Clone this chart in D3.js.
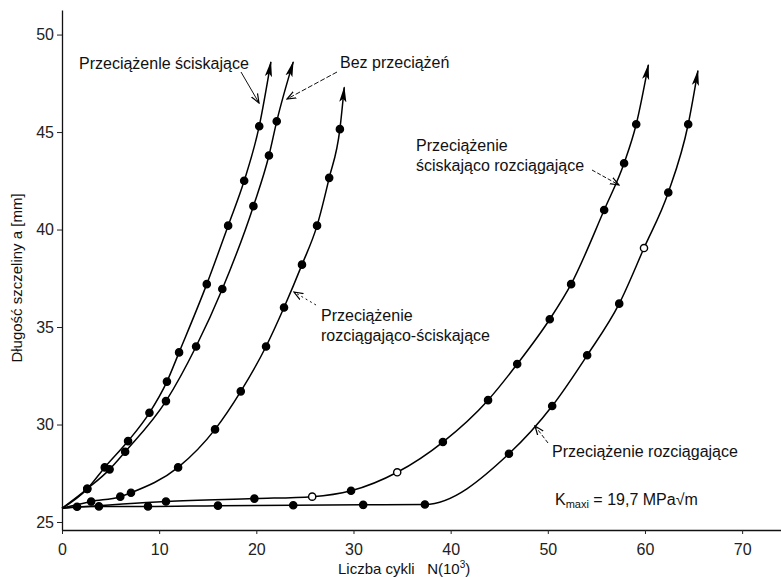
<!DOCTYPE html>
<html><head><meta charset="utf-8">
<script src="https://cdn.jsdelivr.net/npm/d3@7/dist/d3.min.js"></script>
<style>
html,body{margin:0;padding:0;background:#fff;}
svg{display:block;font-family:"Liberation Sans",Arial,Helvetica,sans-serif;}
</style></head>
<body>
<svg id="chart" width="781" height="577"></svg>
<script>
// ---- data (N in 10^3 cycles, a in mm) ----
const xTicks = [0, 10, 20, 30, 40, 50, 60, 70];
const yTicks = [25, 30, 35, 40, 45, 50];
const startPoint = [0, 25.7];

const sciskajace = [[2.6,26.7],[4.4,27.8],[6.8,29.15],[9.0,30.6],[10.8,32.2],[12.05,33.7],[14.9,37.2],[17.1,40.2],[18.75,42.5],[20.3,45.3]];
const sciskajaceEnd = [21.5, 48.6];

const bezPrzeciazen = [[2.6,26.7],[4.9,27.7],[6.5,28.6],[10.7,31.2],[13.8,34.0],[16.5,36.95],[19.7,41.2],[21.3,43.8],[22.1,45.55]];
const bezPrzeciazenEnd = [23.8, 48.6];

const rozciagajacoSciskajace = [[3.0,26.05],[6.0,26.3],[7.1,26.5],[11.95,27.8],[15.75,29.75],[18.4,31.7],[21.0,34.0],[22.85,36.0],[24.7,38.2],[26.25,40.2],[27.5,42.65],[28.6,45.15]];
const rozciagajacoSciskajaceEnd = [29.05, 47.3];

const sciskajacoRozciagajace = [[10.7,26.05],[19.8,26.2],[25.75,26.3],[29.75,26.6],[34.5,27.55],[39.2,29.1],[43.85,31.25],[46.85,33.1],[50.2,35.4],[52.4,37.2],[55.8,41.0],[57.85,43.4],[59.1,45.4]];
const sciskajacoRozciagajaceEnd = [60.35, 48.45];
const sciskajacoRozciagajaceOpen = [2, 4];

const rozciagajace = [[1.55,25.78],[3.8,25.8],[8.85,25.8],[16.05,25.84],[23.8,25.86],[31.0,25.88],[37.35,25.9],[46.0,28.5],[50.45,30.95],[54.05,33.55],[57.35,36.2],[59.9,39.05],[62.4,41.9],[64.45,45.4]];
const rozciagajaceEnd = [65.45, 48.15];
const rozciagajaceOpen = [11];

const series = [
  {pts: sciskajace, end: sciskajaceEnd, open: []},
  {pts: bezPrzeciazen, end: bezPrzeciazenEnd, open: []},
  {pts: rozciagajacoSciskajace, end: rozciagajacoSciskajaceEnd, open: []},
  {pts: sciskajacoRozciagajace, end: sciskajacoRozciagajaceEnd, open: sciskajacoRozciagajaceOpen},
  {pts: rozciagajace, end: rozciagajaceEnd, open: rozciagajaceOpen}
];

// ---- drawing ----
const svg = d3.select("#chart");
const x = d3.scaleLinear().domain([0, 74]).range([62, 781]);
const y = d3.scaleLinear().domain([24.59, 51.26]).range([530, 10]);

const defs = svg.append("defs");
defs.append("marker").attr("id","tip").attr("markerUnits","userSpaceOnUse")
  .attr("viewBox","0 -5 16 10").attr("refX",15).attr("refY",0)
  .attr("markerWidth",16).attr("markerHeight",10).attr("orient","auto")
  .append("path").attr("d","M0,-3.6L16,0L0,3.6L3.5,0Z").attr("fill","#000");
defs.append("marker").attr("id","lead").attr("markerUnits","userSpaceOnUse")
  .attr("viewBox","0 -5 10 10").attr("refX",9).attr("refY",0)
  .attr("markerWidth",10).attr("markerHeight",10).attr("orient","auto")
  .append("path").attr("d","M0,-3.5L9,0L0,3.5").attr("fill","none").attr("stroke","#000").attr("stroke-width",1.2);

// axes
const gx = svg.append("g").attr("transform","translate(0,530)")
  .call(d3.axisBottom(x).tickValues(xTicks).tickSize(4).tickSizeOuter(0).tickPadding(6));
const gy = svg.append("g").attr("transform","translate(62,0)")
  .call(d3.axisLeft(y).tickValues(yTicks).tickSize(5).tickSizeOuter(0).tickPadding(3));
[gx, gy].forEach(g => {
  g.select(".domain").attr("stroke","#111").attr("stroke-width",1.3);
  g.selectAll(".tick line").attr("stroke","#222");
  g.selectAll(".tick text").attr("font-size",16).attr("fill","#222")
   .attr("font-family","'Liberation Sans',Arial,sans-serif");
});
gx.selectAll(".tick text").attr("dy","0.95em");

// curves
const line = d3.line().x(d => x(d[0])).y(d => y(d[1])).curve(d3.curveMonotoneX);
series.forEach(s => {
  const path = [startPoint].concat(s.pts, [s.end]);
  svg.append("path").attr("d", line(path)).attr("fill","none")
    .attr("stroke","#000").attr("stroke-width",1.5).attr("marker-end","url(#tip)");
  svg.append("g").selectAll("circle").data(s.pts).join("circle")
    .attr("cx", d => x(d[0])).attr("cy", d => y(d[1])).attr("r", 3.6)
    .attr("fill", (d,i) => s.open.includes(i) ? "#fff" : "#000")
    .attr("stroke","#000").attr("stroke-width",1.4);
});

// annotations
function txt(t, px, py, size) {
  return svg.append("text").attr("x",px).attr("y",py).attr("font-size",size||16).attr("fill","#111").text(t);
}
function leader(x1,y1,x2,y2,dash) {
  svg.append("line").attr("x1",x1).attr("y1",y1).attr("x2",x2).attr("y2",y2)
    .attr("stroke","#111").attr("stroke-width",1).attr("stroke-dasharray",dash||null)
    .attr("marker-end","url(#lead)");
}
txt("Przeciążenle ściskające", 79, 69);
leader(241, 72, 259, 103);
txt("Bez przeciążeń", 340, 68);
leader(337, 72, 287, 99, "5,2");
txt("Przeciążenie", 416, 151);
txt("ściskająco rozciągające", 416, 171);
leader(592, 170, 619, 185, "4,2");
txt("Przeciążenie", 321, 321);
txt("rozciągająco-ściskające", 321, 341);
leader(316, 305, 294, 292, "2,3");
txt("Przeciążenie rozciągające", 552, 457);
leader(548, 443, 535, 426, "4,2");

const k = svg.append("text").attr("x",555).attr("y",505).attr("font-size",16).attr("fill","#111");
k.append("tspan").text("K");
k.append("tspan").attr("font-size",11).attr("dy",3).text("maxi");
k.append("tspan").attr("dy",-3).text(" = 19,7 MPa√m");

const xl = svg.append("text").attr("x",338).attr("y",574).attr("font-size",15).attr("fill","#111");
xl.append("tspan").text("Liczba cykli\u00a0\u00a0 N(10");
xl.append("tspan").attr("font-size",10).attr("dy",-6).text("3");
xl.append("tspan").attr("dy",6).text(")");

svg.append("text").attr("transform","translate(22,278) rotate(-90)")
  .attr("text-anchor","middle").attr("font-size",15).attr("fill","#111")
  .text("Długość szczeliny a [mm]");
</script>
</body></html>
